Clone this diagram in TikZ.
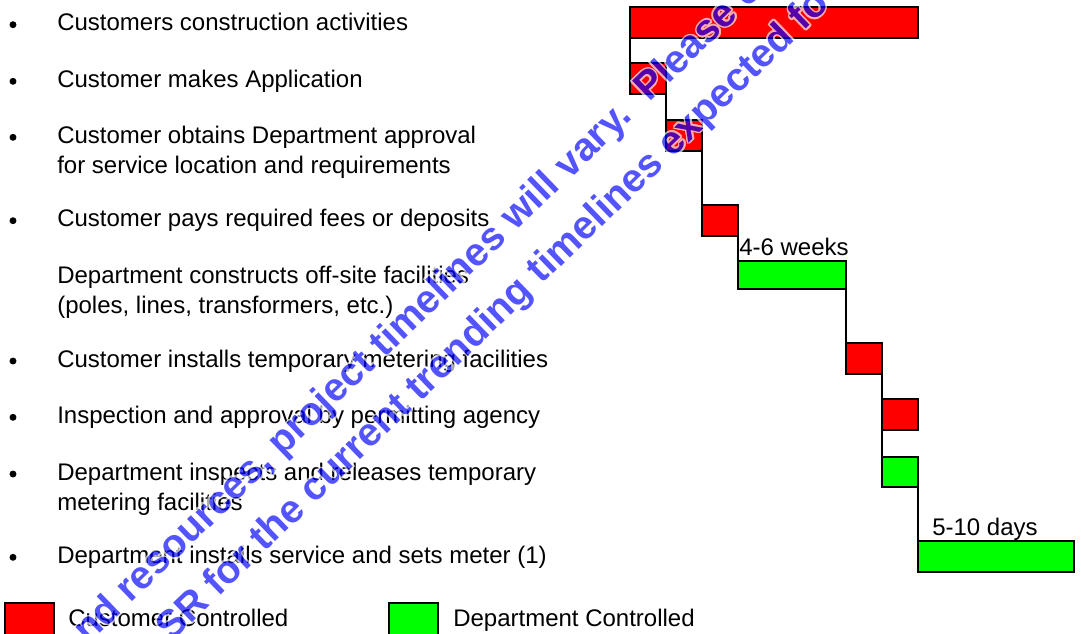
\documentclass[tikz,border=0pt]{standalone}
\usepackage{fontspec}
\setmainfont{Liberation Sans}
\usepackage{tikz}

\begin{document}
\begin{tikzpicture}[x=0.75pt,y=-0.75pt]
  \tikzset{txt/.style = {anchor=base west, inner sep=0pt, font=\fontsize{18}{22.5}\selectfont},
           dot/.style = {circle, fill=black, inner sep=0pt, minimum size=5.2pt},
           bar/.style = {draw=black, line width=1.1pt, anchor=north west, inner sep=0pt, outer sep=0pt, minimum height=23.25pt},
           cust/.style = {bar, fill=red},
           dept/.style = {bar, fill=green},
           link/.style = {line width=1.1pt},
           wm/.style = {anchor=base west, inner sep=0pt, rotate=44, font=\fontsize{29.6}{35}\selectfont\bfseries}}
  \useasboundingbox (0,0) rectangle (1081,633);

  % steps
  \node[dot] (d1) at (13,24.7) {};
  \node[txt] (t1) at (57,30.7) {Customers construction activities};
  \node[dot] (d2) at (13,81.3) {};
  \node[txt] (t2) at (57,87.3) {Customer makes Application};
  \node[dot] (d3) at (13,137.3) {};
  \node[txt] (t3) at (57,143.3) {Customer obtains Department approval};
  \node[txt] (t3b) at (57,173.3) {for service location and requirements};
  \node[dot] (d4) at (13,220.7) {};
  \node[txt] (t4) at (57,226.7) {Customer pays required fees or deposits};
  \node[txt] (t5) at (57,283.5) {Department constructs off-site facilities};
  \node[txt] (t5b) at (57,313.5) {(poles, lines, transformers, etc.)};
  \node[dot] (d6) at (13,361) {};
  \node[txt] (t6) at (57,367) {Customer installs temporary metering facilities};
  \node[dot] (d7) at (13,417.3) {};
  \node[txt] (t7) at (57,423.3) {Inspection and approval by permitting agency};
  \node[dot] (d8) at (13,474) {};
  \node[txt] (t8) at (57,480) {Department inspects and releases temporary};
  \node[txt] (t8b) at (57,510) {metering facilities};
  \node[dot] (d9) at (13,557.3) {};
  \node[txt] (t9) at (57,563.3) {Department installs service and sets meter (1)};

  % bars
  \node[cust, minimum width=216pt] (s1) at (630,7) {};
  \node[cust, minimum width=27pt] (s2) at (630,63) {};
  \node[cust, minimum width=27pt] (s3) at (666,120) {};
  \node[cust, minimum width=27pt] (s4) at (702,205) {};
  \node[dept, minimum width=81pt, minimum height=21pt] (s5) at (738,261) {};
  \node[cust, minimum width=27pt] (s6) at (846,343) {};
  \node[cust, minimum width=27pt] (s7) at (882,399) {};
  \node[dept, minimum width=27pt, minimum height=22.5pt] (s8) at (882,457) {};
  \node[dept, minimum width=117pt] (s9) at (918,541) {};

  \draw[link] (s1.south west) -- (s2.north west);
  \draw[link] (s2.south east) -- (s3.north west);
  \draw[link] (s3.south east) -- (s4.north west);
  \draw[link] (s4.south east) -- (s5.north west);
  \draw[link] (s5.south east) -- (s6.north west);
  \draw[link] (s6.south east) -- (s7.north west);
  \draw[link] (s7.south west) -- (s8.north west);
  \draw[link] (s8.south east) -- (s9.north west);

  \node[txt] (l5) at ([xshift=0.75pt,yshift=4.5pt]s5.north west) {4-6 weeks};
  \node[txt] (l9) at ([xshift=10.5pt,yshift=4.5pt]s9.north west) {5-10 days};

  % legend
  \node[cust, minimum width=36.75pt, minimum height=24pt] (k1) at (5,603) {};
  \node[txt] (k1t) at (68,626.7) {Customer Controlled};
  \node[dept, minimum width=36.75pt, minimum height=24pt] (k2) at (389,603) {};
  \node[txt] (k2t) at (453,626.7) {Department Controlled};

  % watermark
  \coordinate (w1) at (88,645);
  \coordinate (w2) at (171,643);
  \begin{scope}[transparency group, opacity=0.67]
    \clip (0,0) rectangle (1081,633);
    \foreach \a in {0,22.5,...,337.5} {
      \node[wm, white] at ([shift={(\a:1.2pt)}]w1) {nd resources, project timelines will vary.\ \ Please c};
      \node[wm, white] at ([shift={(\a:1.2pt)}]w2) {SR for the current trending timelines expected fo};
    }
    \node[wm, blue] (m1) at (w1) {nd resources, project timelines will vary.\ \ Please c};
    \node[wm, blue] (m2) at (w2) {SR for the current trending timelines expected fo};
  \end{scope}
\end{tikzpicture}
\end{document}
